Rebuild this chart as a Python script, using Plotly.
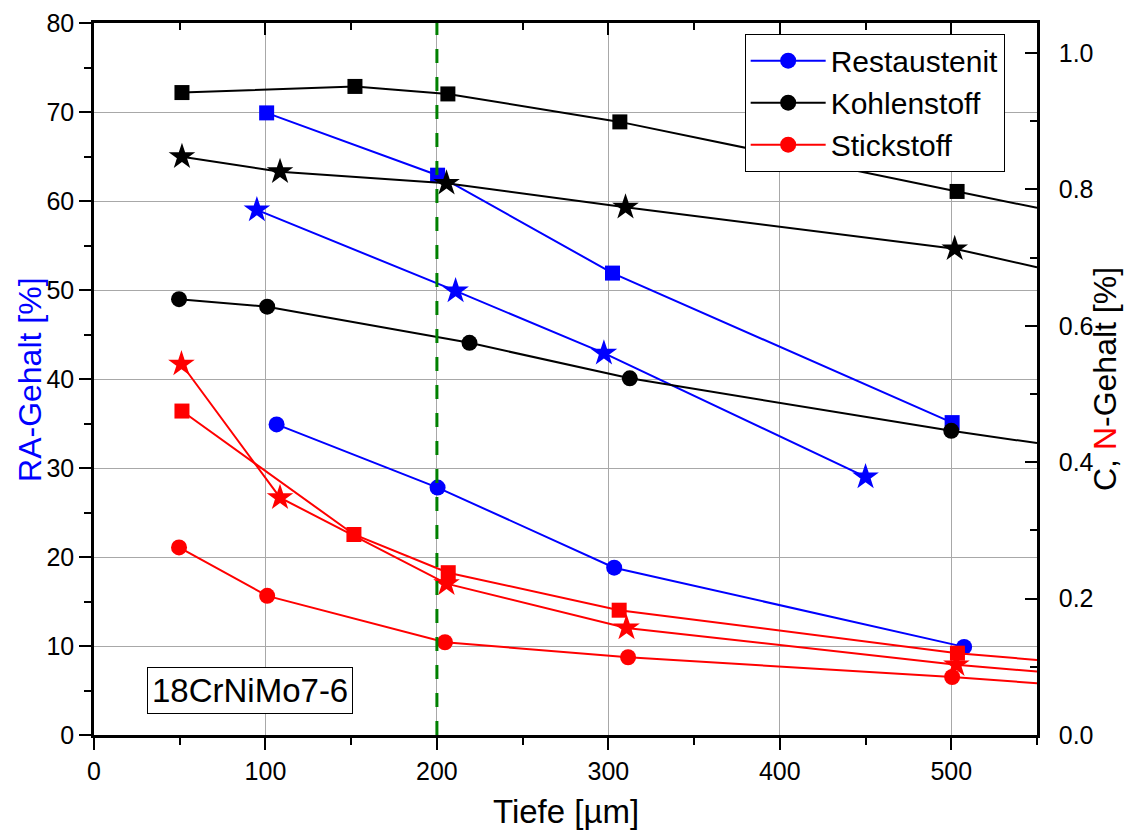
import plotly.graph_objects as go

# ---------------- data ----------------
# Restaustenit, RA-Gehalt [%] (left axis)
ra_sq_x = [100.7, 200.4, 302.4, 500.5]
ra_sq_y = [69.9, 62.9, 51.9, 35.1]
ra_st_x = [95.0, 210.9, 297.4, 450.0]
ra_st_y = [59.0, 49.9, 42.9, 29.0]
ra_ci_x = [106.5, 200.4, 303.4, 507.5]
ra_ci_y = [34.9, 27.8, 18.8, 9.9]

# Kohlenstoff, C-Gehalt [%] (right axis)
c_sq_x = [51.3, 152.2, 206.4, 306.7, 503.4]
c_sq_y = [0.942, 0.951, 0.940, 0.899, 0.797]
c_st_x = [51.3, 108.5, 205.6, 310.0, 502.0]
c_st_y = [0.848, 0.826, 0.809, 0.774, 0.713]
c_ci_x = [49.6, 101.0, 219.0, 312.5, 500.0]
c_ci_y = [0.639, 0.628, 0.575, 0.523, 0.446]

# Stickstoff, N-Gehalt [%] (right axis)
n_sq_x = [51.3, 151.6, 206.6, 306.3, 503.6]
n_sq_y = [0.475, 0.294, 0.238, 0.183, 0.120]
n_st_x = [51.0, 108.5, 205.6, 310.6, 503.0]
n_st_y = [0.544, 0.348, 0.222, 0.157, 0.103]
n_ci_x = [49.6, 101.0, 204.7, 311.5, 500.5]
n_ci_y = [0.275, 0.204, 0.136, 0.114, 0.085]

# values where the C / N lines leave the plot at the right border
edge_x = 550
c_edge_y = [0.773, 0.686, 0.428]   # square, star, circle
n_edge_y = [0.110, 0.093, 0.076]

x_range = [0, 550]
ra_range = [0, 80]
cn_range = [0, 1.044]
x_ticks = [0, 100, 200, 300, 400, 500]
marked_depth = 200
legend_names = ["Restaustenit", "Kohlenstoff", "Stickstoff"]
steel_label = "18CrNiMo7-6"
x_title = "Tiefe [µm]"
y_title = "RA-Gehalt [%]"
y2_title = "C, <span style='color:#ff0000'>N</span>-Gehalt [%]"

FONT = "Liberation Sans, Arial, sans-serif"
BLUE, BLACK, RED = "#0000ff", "#000000", "#ff0000"
SIZES = {"square": 15, "star": 20, "circle": 16}

fig = go.Figure()


def add_series(xs, ys, color, symbol, yaxis, edge=None):
    lx, ly = list(xs), list(ys)
    if edge is not None:
        lx.append(edge_x)
        ly.append(edge)
    fig.add_trace(go.Scatter(x=lx, y=ly, mode="lines", yaxis=yaxis,
                             line=dict(color=color, width=2),
                             showlegend=False, hoverinfo="skip"))
    fig.add_trace(go.Scatter(x=xs, y=ys, mode="markers", yaxis=yaxis,
                             marker=dict(color=color, symbol=symbol,
                                         size=SIZES[symbol], line=dict(width=0)),
                             showlegend=False))


# RA (left axis)
add_series(ra_sq_x, ra_sq_y, BLUE, "square", "y")
add_series(ra_st_x, ra_st_y, BLUE, "star", "y")
add_series(ra_ci_x, ra_ci_y, BLUE, "circle", "y")
# C (right axis)
add_series(c_sq_x, c_sq_y, BLACK, "square", "y2", c_edge_y[0])
add_series(c_st_x, c_st_y, BLACK, "star", "y2", c_edge_y[1])
add_series(c_ci_x, c_ci_y, BLACK, "circle", "y2", c_edge_y[2])
# N (right axis)
add_series(n_sq_x, n_sq_y, RED, "square", "y2", n_edge_y[0])
add_series(n_st_x, n_st_y, RED, "star", "y2", n_edge_y[1])
add_series(n_ci_x, n_ci_y, RED, "circle", "y2", n_edge_y[2])

# legend entries
for name, color in zip(legend_names, [BLUE, BLACK, RED]):
    fig.add_trace(go.Scatter(x=[None], y=[None], mode="lines+markers", name=name,
                             line=dict(color=color, width=2),
                             marker=dict(color=color, symbol="circle", size=17)))

# dummy trace to create the top (mirror) axis
fig.add_trace(go.Scatter(x=[None], y=[None], xaxis="x2", yaxis="y",
                         showlegend=False, hoverinfo="skip"))

axis_common = dict(showline=True, linecolor="black", linewidth=2.5,
                   tickcolor="black", tickwidth=2, zeroline=False,
                   automargin=False,
                   tickfont=dict(family=FONT, size=25, color="black"))

fig.update_layout(
    width=1131, height=832,
    margin=dict(l=94, r=94, t=23, b=97, autoexpand=False),
    paper_bgcolor="white", plot_bgcolor="white",
    font=dict(family=FONT, color="black"),
    xaxis=dict(range=x_range, tickvals=x_ticks, ticks="outside", ticklen=12,
               showgrid=True, gridcolor="#a8a8a8", gridwidth=1,
               minor=dict(dtick=50, ticks="outside", ticklen=7, tickwidth=2,
                          tickcolor="black", showgrid=False),
               **axis_common),
    xaxis2=dict(range=x_range, overlaying="x", side="top", tickvals=x_ticks,
                ticks="inside", ticklen=12, showticklabels=False, showgrid=False,
                minor=dict(dtick=50, ticks="inside", ticklen=7, tickwidth=2,
                           tickcolor="black"),
                **axis_common),
    yaxis=dict(range=ra_range, dtick=10, ticks="outside", ticklen=12,
               showgrid=True, gridcolor="#a8a8a8", gridwidth=1,
               minor=dict(dtick=5, ticks="outside", ticklen=7, tickwidth=2,
                          tickcolor="black", showgrid=False),
               **axis_common),
    yaxis2=dict(range=cn_range, overlaying="y", side="right", dtick=0.2,
                tickformat=".1f", ticks="inside", ticklen=12, showgrid=False,
                ticklabelstandoff=14,
                minor=dict(dtick=0.1, ticks="inside", ticklen=7, tickwidth=2,
                           tickcolor="black"),
                **axis_common),
    legend=dict(x=0.69, y=0.985, xanchor="left", yanchor="top",
                bgcolor="white", bordercolor="black", borderwidth=1,
                font=dict(family=FONT, size=30, color="black"),
                itemwidth=75, tracegroupgap=0),
    shapes=[dict(type="line", xref="x", yref="paper", x0=marked_depth, x1=marked_depth,
                 y0=0, y1=1, layer="above",
                 line=dict(color="#008000", width=3, dash="14px,14px"))],
    annotations=[
        dict(text=steel_label, xref="paper", yref="paper",
             x=0.1654, y=0.0618, xanchor="center", yanchor="middle",
             showarrow=False, bgcolor="white", bordercolor="black",
             borderwidth=1, borderpad=4,
             font=dict(family=FONT, size=33, color="black")),
        dict(text=x_title, xref="paper", yref="paper", x=0.5, y=-0.107,
             xanchor="center", yanchor="middle", showarrow=False,
             font=dict(family=FONT, size=33, color="black")),
        dict(text=y_title, xref="paper", yref="paper", x=-0.0679, y=0.5,
             xanchor="center", yanchor="middle", textangle=-90, showarrow=False,
             font=dict(family=FONT, size=32, color=BLUE)),
        dict(text=y2_title, xref="paper", yref="paper", x=1.0721, y=0.5,
             xanchor="center", yanchor="middle", textangle=-90, showarrow=False,
             font=dict(family=FONT, size=32, color="black")),
    ],
)

fig.write_html("out.html", config={"displayModeBar": False},
               post_script="document.body.style.margin='0';document.body.style.padding='0';")
